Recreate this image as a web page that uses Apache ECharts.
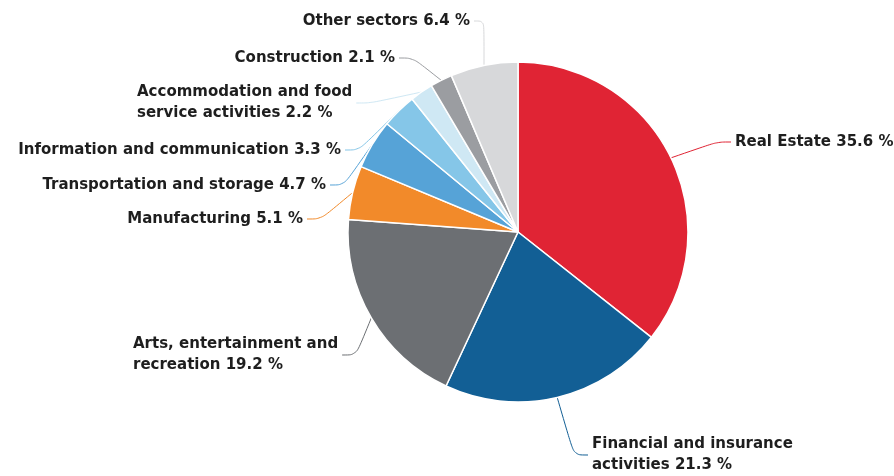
<!DOCTYPE html>
<html>
<head>
<meta charset="utf-8">
<script src="https://cdn.jsdelivr.net/npm/echarts@6/dist/echarts.min.js"></script>
<style>
  html, body { margin: 0; padding: 0; background: #fff; }
  #chart { width: 894px; height: 476px; }
</style>
</head>
<body>
<div id="chart"></div>
<script>
// Sector shares, clockwise from 12 o'clock
const sectors = [
  'Real Estate',
  'Financial and insurance\nactivities',
  'Arts, entertainment and\nrecreation',
  'Manufacturing',
  'Transportation and storage',
  'Information and communication',
  'Accommodation and food\nservice activities',
  'Construction',
  'Other sectors'
];
const shares = [35.6, 21.3, 19.2, 5.1, 4.7, 3.3, 2.2, 2.1, 6.4];
const sectorColors = ['#e02434', '#125f95', '#6c6f73', '#f28a2a', '#56a3d7', '#85c6e8', '#cfe8f4', '#9b9da1', '#d7d8da'];

// Where each label's text sits (text edge x, middle y, text alignment)
const labelSpots = [
  { x: 735, y: 142, align: 'left' },
  { x: 592, y: 455, align: 'left' },
  { x: 133, y: 355, align: 'left' },
  { x: 303, y: 219, align: 'right' },
  { x: 326, y: 185, align: 'right' },
  { x: 341, y: 150, align: 'right' },
  { x: 137, y: 103, align: 'left' },
  { x: 395, y: 58,  align: 'right' },
  { x: 470, y: 21,  align: 'right' }
];
// Gap kept between a connector's end and its text
const labelPad = 4;

const chart = echarts.init(document.getElementById('chart'), null, { renderer: 'canvas' });

chart.setOption({
  animation: false,
  backgroundColor: '#ffffff',
  series: [{
    type: 'pie',
    center: [518, 232],
    radius: 170,
    startAngle: 90,
    clockwise: true,
    avoidLabelOverlap: false,
    itemStyle: { borderColor: '#ffffff', borderWidth: 1.5 },
    label: {
      show: true,
      formatter: p => p.name + ' ' + p.value.toFixed(1) + ' %',
      fontFamily: 'DejaVu Sans',
      fontWeight: 'bold',
      fontSize: 15,
      lineHeight: 21,
      color: '#1e1e1e',
      padding: [0, labelPad]
    },
    labelLine: { show: true, length: 15, length2: 14, smooth: 0.35, lineStyle: { width: 1 } },
    labelLayout: params => {
      const s = labelSpots[params.dataIndex];
      const x = s.align === 'right' ? s.x + labelPad : s.x - labelPad;
      return { x: x, y: s.y, align: s.align, verticalAlign: 'middle' };
    },
    data: sectors.map((name, i) => ({
      name: name,
      value: shares[i],
      itemStyle: { color: sectorColors[i] }
    }))
  }]
});
</script>
</body>
</html>
